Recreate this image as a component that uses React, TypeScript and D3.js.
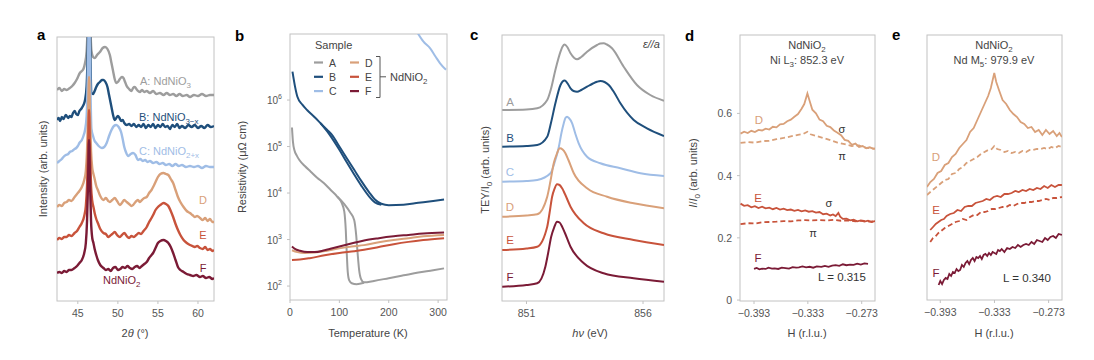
import React from 'react';
import * as d3 from 'd3';

type P = [number, number];

// ---- panel a: XRD, 2theta (deg) vs offset intensity (arb.)
const xrdTicks = [45, 50, 55, 60];
const xrdA: P[] = [[42.4,211],[42.7,213],[43.0,210],[43.3,212],[43.6,211],[44.0,213],[44.3,215],[44.6,218],[44.9,222],[45.25,228],[45.5,230],[45.7,232],[45.9,238],[46.1,250],[46.28,300],[46.4,380],[46.52,300],[46.7,250],[46.9,244],[47.1,243],[47.4,246],[47.75,249],[48.1,253],[48.4,254],[48.7,252],[49.0,246],[49.2,238],[49.4,230],[49.6,222],[49.8,218],[50.0,219],[50.25,222],[50.5,224],[50.7,223],[50.9,219],[51.1,215],[51.4,212],[51.7,210],[51.9,213],[52.1,214],[52.4,211],[52.75,209],[53.0,211],[53.3,209],[53.6,210],[54.0,208],[54.4,210],[54.8,207],[55.25,208],[55.7,206],[56.1,208],[56.5,206],[56.9,207],[57.3,205],[57.7,207],[58.1,205],[58.6,206],[59.0,204],[59.5,206],[60.0,205],[60.5,207],[61.0,205],[61.5,206],[62.0,206]];
const xrdB: P[] = [[42.4,181],[42.6,183],[42.8,180],[43.0,184],[43.2,182],[43.5,186],[43.8,183],[44.0,185],[44.2,184],[44.4,188],[44.6,190],[44.8,187],[45.0,186],[45.2,190],[45.5,193],[45.7,196],[45.9,201],[46.1,215],[46.28,270],[46.4,340],[46.52,270],[46.7,208],[46.9,207],[47.1,210],[47.3,214],[47.5,217],[47.75,219],[48.0,221],[48.2,221],[48.45,219],[48.7,214],[48.9,206],[49.2,194],[49.4,186],[49.6,181],[49.8,183],[50.0,185],[50.2,183],[50.4,180],[50.6,181],[50.8,178],[51.1,176],[51.4,177],[51.7,175],[52.0,177],[52.3,174],[52.6,176],[52.9,174],[53.2,177],[53.5,173],[53.8,176],[54.1,174],[54.4,177],[54.7,173],[55.0,176],[55.3,174],[55.6,177],[55.9,174],[56.2,175],[56.5,172],[56.8,176],[57.1,174],[57.4,177],[57.7,173],[58.0,175],[58.4,173],[58.8,176],[59.2,174],[59.6,176],[60.0,173],[60.4,175],[60.8,173],[61.2,176],[61.6,174],[62.0,175]];
const xrdC: P[] = [[42.4,138],[42.7,140],[43.0,142],[43.2,144],[43.5,146],[43.8,147],[44.0,149],[44.3,150],[44.6,152],[44.8,153],[45.0,155],[45.2,158],[45.5,161],[45.7,165],[45.9,171],[46.1,185],[46.28,240],[46.4,300],[46.52,240],[46.7,172],[46.9,165],[47.1,160],[47.3,158],[47.6,155],[48.0,153],[48.3,154],[48.6,158],[48.9,165],[49.2,171],[49.5,175],[49.8,176],[50.1,174],[50.4,169],[50.6,162],[50.8,154],[51.0,149],[51.3,145],[51.6,147],[51.9,148],[52.2,146],[52.5,141],[52.8,142],[53.1,140],[53.4,141],[53.7,139],[54.0,140],[54.4,138],[54.8,139],[55.2,137],[55.6,138],[56.0,136],[56.4,137],[56.8,135],[57.2,137],[57.6,135],[58.0,136],[58.5,134],[59.0,135],[59.5,134],[60.0,135],[60.5,133],[61.0,135],[61.5,134],[62.0,134]];
const xrdD: P[] = [[42.4,94],[42.7,96],[43.0,95],[43.3,98],[43.6,99],[43.9,101],[44.2,100],[44.6,104],[44.9,107],[45.2,110],[45.5,114],[45.8,121],[46.0,130],[46.15,150],[46.28,185],[46.4,224],[46.52,185],[46.65,150],[46.8,133],[46.95,127],[47.1,122],[47.3,115],[47.5,111],[47.8,105],[48.2,101],[48.5,103],[48.8,100],[49.0,99],[49.3,101],[49.6,103],[49.9,100],[50.25,96],[50.5,98],[50.8,101],[51.1,99],[51.4,97],[51.7,95],[51.9,96],[52.2,99],[52.5,101],[52.75,99],[53.0,101],[53.3,103],[53.6,104],[53.9,108],[54.2,111],[54.4,114],[54.7,119],[55.0,124],[55.3,127],[55.7,128],[56.0,127],[56.3,126],[56.6,122],[56.9,118],[57.2,111],[57.5,104],[57.8,99],[58.2,94],[58.6,90],[59.0,88],[59.3,86],[59.6,84],[59.9,85],[60.25,83],[60.6,81],[60.9,83],[61.2,80],[61.5,82],[61.8,79],[62.0,79]];
const xrdE: P[] = [[42.4,61],[42.7,63],[43.0,62],[43.3,64],[43.6,64],[43.9,66],[44.2,65],[44.6,68],[44.9,70],[45.2,74],[45.5,78],[45.8,85],[46.0,95],[46.15,115],[46.28,150],[46.4,191],[46.52,150],[46.65,115],[46.8,100],[46.95,94],[47.1,88],[47.3,82],[47.5,78],[47.8,72],[48.2,68],[48.5,67],[48.8,64],[49.0,65],[49.3,67],[49.6,69],[49.9,66],[50.25,64],[50.5,66],[50.8,68],[51.1,65],[51.4,63],[51.7,65],[52.0,64],[52.3,66],[52.6,68],[52.9,67],[53.2,70],[53.6,74],[53.9,79],[54.2,83],[54.4,86],[54.7,91],[55.0,94],[55.3,96],[55.7,98],[56.0,97],[56.3,95],[56.6,90],[56.9,84],[57.2,77],[57.5,71],[57.8,66],[58.2,61],[58.6,58],[59.0,56],[59.3,55],[59.6,54],[59.9,55],[60.25,53],[60.6,52],[60.9,54],[61.2,51],[61.5,52],[61.8,50],[62.0,51]];
const xrdF: P[] = [[42.4,28],[42.7,29],[43.0,28],[43.3,30],[43.6,29],[43.9,31],[44.2,31],[44.6,33],[44.9,35],[45.2,38],[45.5,41],[45.8,48],[46.0,58],[46.15,80],[46.28,120],[46.4,161],[46.52,120],[46.65,80],[46.8,63],[46.95,58],[47.1,52],[47.3,46],[47.5,41],[47.8,36],[48.2,33],[48.5,31],[48.8,32],[49.1,30],[49.4,33],[49.7,34],[50.0,31],[50.3,32],[50.6,34],[50.9,33],[51.2,35],[51.5,33],[51.8,32],[52.1,34],[52.4,35],[52.7,33],[53.0,35],[53.3,37],[53.6,39],[53.9,43],[54.2,46],[54.4,48],[54.7,53],[55.0,58],[55.3,60],[55.7,61],[56.0,60],[56.3,58],[56.6,54],[56.9,48],[57.2,41],[57.5,34],[57.8,31],[58.2,29],[58.6,27],[59.0,26],[59.4,25],[59.8,26],[60.25,24],[60.6,25],[61.0,23],[61.4,24],[61.8,22],[62.0,23]];

// ---- panel b: resistivity, T (K) vs log10(rho / uOhm cm)
const tempTicks = [0, 100, 200, 300];
const rhoTicks = [2, 3, 4, 5, 6];
const rhoA1: P[] = [[4,5.41],[6,5.1],[9,4.92],[14,4.8],[19,4.71],[30,4.58],[42,4.46],[55,4.33],[69,4.21],[82,4.07],[96,3.92],[105,3.78],[110,3.6],[113,3.2],[115,2.7],[117,2.3],[120,2.12],[125,2.06],[135,2.04],[150,2.07]];
const rhoA2: P[] = [[96,3.92],[110,3.76],[122,3.58],[130,3.42],[134,3.1],[137,2.7],[140,2.35],[144,2.15],[150,2.08],[170,2.11],[200,2.17],[230,2.23],[260,2.29],[290,2.34],[312,2.38]];
const rhoB1: P[] = [[5,6.61],[10,6.3],[15,6.07],[25,5.9],[35,5.78],[50,5.63],[62,5.5],[75,5.36],[85,5.25],[100,5.0],[115,4.75],[130,4.5],[145,4.25],[160,4.02],[172,3.86],[185,3.77],[200,3.74],[230,3.75],[260,3.79],[290,3.83],[312,3.86]];
const rhoB2: P[] = [[62,5.5],[75,5.33],[85,5.18],[100,4.93],[115,4.66],[130,4.4],[145,4.15],[160,3.93],[172,3.8],[185,3.75]];
const rhoC: P[] = [[258,7.45],[270,7.26],[284,7.11],[295,6.93],[304,6.79],[316,6.65]];
const rhoD: P[] = [[4,2.77],[15,2.73],[30,2.71],[50,2.72],[75,2.76],[100,2.81],[125,2.85],[150,2.88],[180,2.94],[210,2.99],[240,3.03],[270,3.07],[312,3.1]];
const rhoE: P[] = [[4,2.56],[20,2.57],[40,2.6],[70,2.66],[100,2.71],[130,2.75],[150,2.78],[180,2.84],[210,2.9],[240,2.95],[270,2.99],[312,3.03]];
const rhoF: P[] = [[4,2.85],[10,2.8],[20,2.76],[35,2.73],[50,2.73],[70,2.77],[100,2.85],[130,2.93],[150,2.98],[180,3.03],[210,3.07],[240,3.1],[270,3.13],[312,3.15]];

// ---- panel c: XAS, photon energy (eV) vs offset TEY/I0
const xasTicks = [851, 856];
const xasA: P[] = [[849.96,191],[851.0,191.5],[851.46,192.7],[851.89,201],[852.05,212],[852.24,231],[852.46,249.3],[852.55,254.5],[852.64,256.5],[852.75,254],[852.89,247.7],[853.05,243],[853.17,241.7],[853.35,244],[853.6,249.3],[854.03,256],[854.17,257.5],[854.31,257.7],[854.45,256.5],[854.67,252.7],[855.17,234.3],[855.74,216],[856.31,206],[856.9,200.3]];
const xasB: P[] = [[849.96,154.3],[851.0,155],[851.46,156],[851.89,164.3],[852.05,178],[852.24,197.7],[852.46,216],[852.55,219.5],[852.64,220.5],[852.75,218],[852.89,212.7],[853.02,210],[853.17,209.3],[853.35,211],[853.6,214.3],[853.85,217.5],[854.03,219.3],[854.17,220],[854.35,219],[854.53,216],[854.75,209],[855.03,197.7],[855.6,181],[856.17,172.7],[856.9,165]];
const xasC: P[] = [[849.96,119.3],[851.0,120],[851.46,121],[852.03,127.7],[852.2,138],[852.39,154.3],[852.5,168],[852.6,177.7],[852.67,183],[852.74,184.3],[852.82,183],[852.96,177.7],[853.1,167],[853.24,157.7],[853.6,144.3],[854.17,137.7],[855.03,132.7],[855.89,127.7],[856.9,125]];
const xasD: P[] = [[849.96,84.3],[851.0,85.5],[851.46,86.7],[851.89,104.3],[852.03,120],[852.17,137.7],[852.3,147],[852.43,152.7],[852.55,151.5],[852.67,147.7],[852.8,141],[853.03,127.7],[853.6,112.7],[854.46,104.3],[855.6,97.7],[856.9,92.7]];
const xasE: P[] = [[849.96,51],[851.0,52.5],[851.46,54.3],[851.89,74.3],[851.99,88],[852.1,104.3],[852.2,112],[852.31,116.7],[852.42,116],[852.53,112.7],[852.65,107],[852.89,94.3],[853.46,77.7],[854.31,67.7],[855.6,61],[856.9,56]];
const xasF: P[] = [[849.96,14.3],[851.0,16],[851.46,17.7],[851.81,34.3],[851.93,48],[852.06,64.3],[852.18,73],[852.31,79.3],[852.42,78.5],[852.53,74.3],[852.65,68],[852.89,54.3],[853.46,37.7],[854.31,27.7],[855.6,22.7],[856.9,19.3]];

// ---- panel d: RIXS Ni L3, H (r.l.u.) vs I/I0
const hTicks = [-0.393, -0.333, -0.273];
const iTicks = [0, 0.2, 0.4, 0.6];
const niDsig: P[] = [[-0.408,0.535],[-0.404,0.541],[-0.400,0.537],[-0.396,0.544],[-0.392,0.540],[-0.388,0.547],[-0.384,0.545],[-0.380,0.551],[-0.376,0.548],[-0.372,0.557],[-0.368,0.555],[-0.364,0.565],[-0.360,0.566],[-0.356,0.575],[-0.352,0.580],[-0.348,0.589],[-0.344,0.598],[-0.340,0.615],[-0.337,0.630],[-0.3335,0.664],[-0.331,0.640],[-0.328,0.612],[-0.324,0.600],[-0.320,0.580],[-0.316,0.575],[-0.312,0.560],[-0.308,0.556],[-0.304,0.545],[-0.300,0.538],[-0.296,0.530],[-0.292,0.515],[-0.288,0.512],[-0.284,0.499],[-0.280,0.503],[-0.276,0.492],[-0.272,0.495],[-0.268,0.488],[-0.264,0.491],[-0.260,0.486],[-0.258,0.487]];
const niDpi: P[] = [[-0.408,0.505],[-0.400,0.508],[-0.392,0.506],[-0.384,0.511],[-0.376,0.512],[-0.368,0.517],[-0.360,0.521],[-0.352,0.526],[-0.344,0.531],[-0.338,0.534],[-0.3335,0.541],[-0.330,0.533],[-0.324,0.528],[-0.316,0.521],[-0.308,0.514],[-0.300,0.506],[-0.292,0.501],[-0.284,0.495],[-0.276,0.497],[-0.268,0.489],[-0.258,0.487]];
const niEsig: P[] = [[-0.408,0.310],[-0.404,0.303],[-0.400,0.305],[-0.396,0.298],[-0.392,0.302],[-0.388,0.296],[-0.384,0.300],[-0.380,0.295],[-0.376,0.297],[-0.372,0.292],[-0.368,0.296],[-0.364,0.291],[-0.360,0.294],[-0.356,0.289],[-0.352,0.291],[-0.348,0.287],[-0.344,0.290],[-0.340,0.285],[-0.336,0.288],[-0.332,0.284],[-0.328,0.286],[-0.324,0.281],[-0.320,0.283],[-0.316,0.276],[-0.312,0.278],[-0.308,0.272],[-0.305,0.275],[-0.302,0.270],[-0.299,0.280],[-0.297,0.268],[-0.294,0.261],[-0.290,0.262],[-0.286,0.256],[-0.282,0.258],[-0.278,0.253],[-0.274,0.256],[-0.270,0.252],[-0.266,0.255],[-0.262,0.251],[-0.258,0.254]];
const niEpi: P[] = [[-0.408,0.244],[-0.400,0.247],[-0.392,0.246],[-0.384,0.250],[-0.376,0.251],[-0.368,0.252],[-0.360,0.254],[-0.352,0.253],[-0.344,0.256],[-0.336,0.257],[-0.328,0.256],[-0.320,0.257],[-0.312,0.256],[-0.304,0.258],[-0.296,0.255],[-0.288,0.256],[-0.280,0.253],[-0.272,0.255],[-0.264,0.252],[-0.258,0.253]];
const niF: P[] = [[-0.393,0.100],[-0.390,0.103],[-0.387,0.099],[-0.384,0.101],[-0.380,0.100],[-0.377,0.104],[-0.373,0.101],[-0.370,0.102],[-0.366,0.100],[-0.362,0.104],[-0.358,0.103],[-0.354,0.101],[-0.350,0.106],[-0.346,0.104],[-0.343,0.105],[-0.339,0.108],[-0.335,0.105],[-0.331,0.107],[-0.327,0.104],[-0.323,0.108],[-0.318,0.107],[-0.314,0.110],[-0.310,0.107],[-0.306,0.111],[-0.302,0.112],[-0.298,0.110],[-0.294,0.115],[-0.290,0.112],[-0.286,0.114],[-0.282,0.113],[-0.278,0.117],[-0.274,0.114],[-0.270,0.118],[-0.266,0.116]];

// ---- panel e: RIXS Nd M5, H (r.l.u.) vs offset intensity (arb.)
const ndDsig: P[] = [[-0.4078,113],[-0.404,118],[-0.400,121],[-0.396,127],[-0.392,129],[-0.388,135],[-0.384,137],[-0.380,143],[-0.376,146],[-0.372,152],[-0.368,156],[-0.364,160],[-0.360,168],[-0.356,172],[-0.352,180],[-0.348,188],[-0.344,196],[-0.340,204],[-0.337,212],[-0.3332,227],[-0.331,218],[-0.328,210],[-0.324,200],[-0.320,196],[-0.316,190],[-0.312,186],[-0.308,183],[-0.304,178],[-0.300,176],[-0.296,172],[-0.292,173],[-0.288,168],[-0.284,170],[-0.280,165],[-0.276,170],[-0.272,166],[-0.268,169],[-0.264,164],[-0.261,167],[-0.2583,163]];
const ndDpi: P[] = [[-0.4078,105],[-0.404,108],[-0.400,111],[-0.396,114],[-0.392,117],[-0.388,120],[-0.384,121],[-0.380,126],[-0.376,127],[-0.372,131],[-0.368,133],[-0.364,137],[-0.360,139],[-0.356,141],[-0.352,143],[-0.348,146],[-0.344,148],[-0.340,150],[-0.336,151],[-0.3332,154],[-0.330,151],[-0.326,150],[-0.322,148],[-0.318,149],[-0.314,147],[-0.310,148],[-0.306,147],[-0.302,149],[-0.298,148],[-0.294,150],[-0.290,150],[-0.286,151],[-0.282,151],[-0.278,152],[-0.274,151],[-0.270,153],[-0.266,152],[-0.262,154],[-0.2583,153]];
const ndEsig: P[] = [[-0.4041,70],[-0.401,73],[-0.398,76],[-0.395,78],[-0.392,80],[-0.389,81],[-0.386,84],[-0.382,86],[-0.378,87],[-0.374,90],[-0.370,89],[-0.366,93],[-0.362,94],[-0.358,94],[-0.354,97],[-0.350,98],[-0.346,99],[-0.342,101],[-0.338,100],[-0.334,103],[-0.330,104],[-0.326,103],[-0.322,106],[-0.318,106],[-0.314,107],[-0.310,109],[-0.306,108],[-0.302,110],[-0.298,109],[-0.294,111],[-0.290,110],[-0.286,112],[-0.282,111],[-0.278,114],[-0.274,112],[-0.270,115],[-0.266,113],[-0.262,115],[-0.2583,115]];
const ndEpi: P[] = [[-0.4041,58],[-0.401,62],[-0.398,64],[-0.395,67],[-0.392,69],[-0.388,72],[-0.384,74],[-0.380,76],[-0.376,78],[-0.372,79],[-0.368,81],[-0.364,80],[-0.360,83],[-0.356,85],[-0.352,85],[-0.348,88],[-0.344,88],[-0.340,89],[-0.336,91],[-0.332,91],[-0.328,92],[-0.324,93],[-0.320,93],[-0.316,95],[-0.312,94],[-0.308,96],[-0.304,97],[-0.300,97],[-0.296,98],[-0.292,98],[-0.288,99],[-0.284,99],[-0.280,100],[-0.276,101],[-0.272,100],[-0.268,102],[-0.264,102],[-0.2583,103]];
const ndF: P[] = [[-0.3948,15],[-0.393,19],[-0.391,16],[-0.389,20],[-0.387,22],[-0.385,21],[-0.383,26],[-0.381,24],[-0.379,28],[-0.377,27],[-0.375,31],[-0.373,29],[-0.371,30],[-0.369,35],[-0.367,33],[-0.365,37],[-0.363,39],[-0.361,36],[-0.359,40],[-0.357,42],[-0.355,39],[-0.353,43],[-0.351,42],[-0.349,44],[-0.347,41],[-0.345,45],[-0.343,46],[-0.341,44],[-0.339,47],[-0.337,45],[-0.335,48],[-0.333,47],[-0.331,46],[-0.329,50],[-0.327,49],[-0.325,51],[-0.322,48],[-0.319,52],[-0.316,51],[-0.313,53],[-0.310,52],[-0.307,55],[-0.304,53],[-0.301,55],[-0.298,56],[-0.295,55],[-0.292,58],[-0.289,56],[-0.286,60],[-0.283,59],[-0.280,58],[-0.277,62],[-0.274,60],[-0.271,63],[-0.268,64],[-0.265,62],[-0.262,66],[-0.2583,65]];

const col = {
  A: '#9d9d9d', B: '#1f4f7c', C: '#9fbde6',
  D: '#d9a079', E: '#c8533b', F: '#7b1b36',
};
const FONT = "'Liberation Sans', Arial, sans-serif";
const TICK = '#555';
const FRAME = '#c2c2c2';

const mkLine = (xs: any, ys: any, curve: any = d3.curveLinear) =>
  d3.line<P>().x(d => xs(d[0])).y(d => ys(d[1])).curve(curve);

function Frame({ xs, ys, id }: any) {
  const [x0, x1] = xs.range();
  const [y0, y1] = ys.range();
  return (
    <>
      <clipPath id={id}>
        <rect x={x0} y={y1} width={x1 - x0} height={y0 - y1} />
      </clipPath>
      <rect x={x0} y={y1} width={x1 - x0} height={y0 - y1} fill="none" stroke={FRAME} strokeWidth={1} />
    </>
  );
}

function XTicks({ xs, ys, ticks, fmt }: any) {
  const yb = ys.range()[0];
  return (
    <g>
      {ticks.map((t: number) => (
        <g key={t}>
          <line x1={xs(t)} x2={xs(t)} y1={yb} y2={yb + 3} stroke={FRAME} />
          <text x={xs(t)} y={yb + 16} textAnchor="middle" fontSize={10.5} fill={TICK}>{fmt ? fmt(t) : t}</text>
        </g>
      ))}
    </g>
  );
}

const Sub = ({ children }: any) => (
  <tspan dy={3} fontSize="0.72em">{children}</tspan>
);

export default function App() {
  // panel a
  const ax = d3.scaleLinear().domain([42.4, 62]).range([57, 214]);
  const ay = d3.scaleLinear().domain([0, 264]).range([301, 37]);
  const aLine = mkLine(ax, ay, d3.curveMonotoneX);
  // panel b
  const bx = d3.scaleLinear().domain([0, 318]).range([290, 447]);
  const by = d3.scaleLog().domain([Math.pow(10, 1.7), Math.pow(10, 7.42)]).range([300, 34]);
  const bLine = d3.line<P>().x(d => bx(d[0])).y(d => by(Math.pow(10, d[1]))).curve(d3.curveMonotoneX);
  // panel c
  const cx = d3.scaleLinear().domain([849.95, 856.9]).range([502, 664]);
  const cy = d3.scaleLinear().domain([0, 266]).range([301, 35]);
  const cLine = mkLine(cx, cy, d3.curveMonotoneX);
  // panel d
  const dx = d3.scaleLinear().domain([-0.4086, -0.2582]).range([740, 875]);
  const dy = d3.scaleLinear().domain([-0.003, 0.852]).range([301, 35]);
  const dLine = mkLine(dx, dy);
  // panel e
  const ex = d3.scaleLinear().domain([-0.4077, -0.2582]).range([927, 1062]);
  const ey = d3.scaleLinear().domain([0, 265]).range([300, 35]);
  const eLine = mkLine(ex, ey);

  const hFmt = (t: number) => t.toFixed(3).replace('-', '\u2212');

  const xrd = [
    { d: xrdA, c: col.A }, { d: xrdB, c: col.B }, { d: xrdC, c: col.C },
    { d: xrdD, c: col.D }, { d: xrdE, c: col.E }, { d: xrdF, c: col.F },
  ];
  const xas = [
    { d: xasA, c: col.A, k: 'A' }, { d: xasB, c: col.B, k: 'B' }, { d: xasC, c: col.C, k: 'C' },
    { d: xasD, c: col.D, k: 'D' }, { d: xasE, c: col.E, k: 'E' }, { d: xasF, c: col.F, k: 'F' },
  ];
  const xasLabelY = [101.7, 138, 171.7, 206.7, 240, 276.7];

  return (
    <svg width={1094} height={360} style={{ position: 'absolute', left: 0, top: 0, background: '#fff' }} fontFamily={FONT}>
      <rect width={1094} height={360} fill="#fff" />

      {/* ---------- a ---------- */}
      <text x={37} y={40} fontSize={15} fontWeight="bold">a</text>
      <Frame xs={ax} ys={ay} id="clip-a" />
      <g clipPath="url(#clip-a)">
        {xrd.map((s, i) => (
          <path key={i} d={aLine(s.d) || ''} fill="none" stroke={s.c} strokeWidth={2.4} strokeLinejoin="round" />
        ))}
      </g>
      <XTicks xs={ax} ys={ay} ticks={xrdTicks} />
      <text x={135} y={337} textAnchor="middle" fontSize={11} fill="#444">
        <tspan>2</tspan><tspan fontStyle="italic">θ</tspan><tspan> (°)</tspan>
      </text>
      <text transform="translate(47,169) rotate(-90)" textAnchor="middle" fontSize={11} fill="#444">Intensity (arb. units)</text>
      <text x={140} y={85} fontSize={11} fill={col.A}>A: NdNiO<Sub>3</Sub></text>
      <text x={139} y={121} fontSize={11} fill={col.B}>B: NdNiO<Sub>3−x</Sub></text>
      <text x={139} y={155} fontSize={11} fill={col.C}>C: NdNiO<Sub>2+x</Sub></text>
      <text x={203} y={204} fontSize={11} fill={col.D} textAnchor="middle">D</text>
      <text x={203} y={239} fontSize={11} fill={col.E} textAnchor="middle">E</text>
      <text x={203} y={272} fontSize={11} fill={col.F} textAnchor="middle">F</text>
      <text x={103} y={284} fontSize={11} fill={col.F}>NdNiO<Sub>2</Sub></text>

      {/* ---------- b ---------- */}
      <text x={235} y={41} fontSize={15} fontWeight="bold">b</text>
      <Frame xs={bx} ys={by} id="clip-b" />
      <g clipPath="url(#clip-b)">
        {[
          { d: rhoA1, c: col.A }, { d: rhoA2, c: col.A },
          { d: rhoB1, c: col.B }, { d: rhoB2, c: col.B },
          { d: rhoC, c: col.C },
          { d: rhoE, c: col.E }, { d: rhoD, c: col.D }, { d: rhoF, c: col.F },
        ].map((s, i) => (
          <path key={i} d={bLine(s.d) || ''} fill="none" stroke={s.c} strokeWidth={2} />
        ))}
      </g>
      <XTicks xs={bx} ys={by} ticks={tempTicks} />
      {rhoTicks.map(t => (
        <g key={t}>
          <line x1={287} x2={290} y1={by(Math.pow(10, t))} y2={by(Math.pow(10, t))} stroke={FRAME} />
          <text x={282} y={by(Math.pow(10, t)) + 4} textAnchor="end" fontSize={10} fill={TICK}>
            10<tspan dy={-5} fontSize={7}>{t}</tspan>
          </text>
        </g>
      ))}
      <text x={368} y={337} textAnchor="middle" fontSize={11} fill="#444">Temperature (K)</text>
      <text transform="translate(246,167) rotate(-90)" textAnchor="middle" fontSize={11} fill="#444">Resistivity (μΩ cm)</text>
      {/* legend */}
      <text x={315} y={49} fontSize={11} fill="#444">Sample</text>
      {[['A', 'D'], ['B', 'E'], ['C', 'F']].map((row, i) => {
        const yy = 62.5 + i * 14.3;
        return (
          <g key={i} fontSize={10.5} fill="#444">
            <line x1={314} x2={323} y1={yy} y2={yy} stroke={(col as any)[row[0]]} strokeWidth={2.2} />
            <text x={329} y={yy + 4}>{row[0]}</text>
            <line x1={350} x2={359} y1={yy} y2={yy} stroke={(col as any)[row[1]]} strokeWidth={2.2} />
            <text x={365} y={yy + 4}>{row[1]}</text>
          </g>
        );
      })}
      <path d="M376,56.5 H380 V97.5 H376 M380,76.8 H386" fill="none" stroke="#555" strokeWidth={1} />
      <text x={390} y={81} fontSize={11} fill="#444">NdNiO<Sub>2</Sub></text>

      {/* ---------- c ---------- */}
      <text x={470} y={40} fontSize={15} fontWeight="bold">c</text>
      <Frame xs={cx} ys={cy} id="clip-c" />
      <g clipPath="url(#clip-c)">
        {xas.map((s, i) => (
          <path key={i} d={cLine(s.d) || ''} fill="none" stroke={s.c} strokeWidth={2} />
        ))}
      </g>
      {xas.map((s, i) => (
        <text key={s.k} x={510} y={xasLabelY[i] + 4} textAnchor="middle" fontSize={11.5} fill={s.c}>{s.k}</text>
      ))}
      <text x={660} y={48} textAnchor="end" fontSize={11} fill="#444" fontStyle="italic">ε//a</text>
      <XTicks xs={cx} ys={cy} ticks={xasTicks} />
      <text x={590} y={337} textAnchor="middle" fontSize={11} fill="#444">
        <tspan fontStyle="italic">hν</tspan> (eV)
      </text>
      <text transform="translate(489,170) rotate(-90)" textAnchor="middle" fontSize={11} fill="#444">
        TEY/<tspan fontStyle="normal">I</tspan><tspan dy={3} fontSize={8}>0</tspan><tspan dy={-3}> (arb. units)</tspan>
      </text>

      {/* ---------- d ---------- */}
      <text x={685} y={41} fontSize={15} fontWeight="bold">d</text>
      <Frame xs={dx} ys={dy} id="clip-d" />
      <g clipPath="url(#clip-d)">
        <path d={dLine(niDpi) || ''} fill="none" stroke={col.D} strokeWidth={1.8} strokeDasharray="5,3" />
        <path d={dLine(niDsig) || ''} fill="none" stroke={col.D} strokeWidth={1.8} />
        <path d={dLine(niEpi) || ''} fill="none" stroke={col.E} strokeWidth={1.8} strokeDasharray="5,3" />
        <path d={dLine(niEsig) || ''} fill="none" stroke={col.E} strokeWidth={1.8} />
        <path d={dLine(niF) || ''} fill="none" stroke={col.F} strokeWidth={1.8} />
      </g>
      <XTicks xs={dx} ys={dy} ticks={hTicks} fmt={hFmt} />
      {iTicks.map(t => (
        <g key={t}>
          <line x1={737} x2={740} y1={dy(t)} y2={dy(t)} stroke={FRAME} />
          <text x={732} y={dy(t) + 4} textAnchor="end" fontSize={10.5} fill={TICK}>{t}</text>
        </g>
      ))}
      <text x={807} y={337} textAnchor="middle" fontSize={11} fill="#444">H (r.l.u.)</text>
      <text transform="translate(697,173) rotate(-90)" textAnchor="middle" fontSize={11} fill="#444">
        <tspan fontStyle="italic">I</tspan>/<tspan fontStyle="italic">I</tspan><tspan dy={3} fontSize={8}>0</tspan><tspan dy={-3}> (arb. units)</tspan>
      </text>
      <text x={807} y={49} textAnchor="middle" fontSize={11} fill="#444">NdNiO<Sub>2</Sub></text>
      <text x={807} y={64} textAnchor="middle" fontSize={11} fill="#444">Ni L<Sub>3</Sub><tspan dy={-3}>: 852.3 eV</tspan></text>
      <text x={759} y={124} textAnchor="middle" fontSize={11.5} fill={col.D}>D</text>
      <text x={842} y={133} textAnchor="middle" fontSize={11} fill="#333">σ</text>
      <text x={842} y={160} textAnchor="middle" fontSize={11} fill="#333">π</text>
      <text x={758} y={202} textAnchor="middle" fontSize={11.5} fill={col.E}>E</text>
      <text x={829} y={207} textAnchor="middle" fontSize={11} fill="#333">σ</text>
      <text x={813} y={237} textAnchor="middle" fontSize={11} fill="#333">π</text>
      <text x={758} y={262} textAnchor="middle" fontSize={11.5} fill={col.F}>F</text>
      <text x={842} y={281} textAnchor="middle" fontSize={11.5} fill="#333">L = 0.315</text>

      {/* ---------- e ---------- */}
      <text x={892} y={40} fontSize={15} fontWeight="bold">e</text>
      <Frame xs={ex} ys={ey} id="clip-e" />
      <g clipPath="url(#clip-e)">
        <path d={eLine(ndDpi) || ''} fill="none" stroke={col.D} strokeWidth={1.8} strokeDasharray="5,3" />
        <path d={eLine(ndDsig) || ''} fill="none" stroke={col.D} strokeWidth={1.8} />
        <path d={eLine(ndEpi) || ''} fill="none" stroke={col.E} strokeWidth={1.8} strokeDasharray="5,3" />
        <path d={eLine(ndEsig) || ''} fill="none" stroke={col.E} strokeWidth={1.8} />
        <path d={eLine(ndF) || ''} fill="none" stroke={col.F} strokeWidth={1.8} />
      </g>
      <XTicks xs={ex} ys={ey} ticks={hTicks} fmt={hFmt} />
      <text x={994} y={337} textAnchor="middle" fontSize={11} fill="#444">H (r.l.u.)</text>
      <text x={994} y={49} textAnchor="middle" fontSize={11} fill="#444">NdNiO<Sub>2</Sub></text>
      <text x={994} y={64} textAnchor="middle" fontSize={11} fill="#444">Nd M<Sub>5</Sub><tspan dy={-3}>: 979.9 eV</tspan></text>
      <text x={936} y={161} textAnchor="middle" fontSize={11.5} fill={col.D}>D</text>
      <text x={936} y={214} textAnchor="middle" fontSize={11.5} fill={col.E}>E</text>
      <text x={936} y={277} textAnchor="middle" fontSize={11.5} fill={col.F}>F</text>
      <text x={1027} y={282} textAnchor="middle" fontSize={11.5} fill="#333">L = 0.340</text>
    </svg>
  );
}
